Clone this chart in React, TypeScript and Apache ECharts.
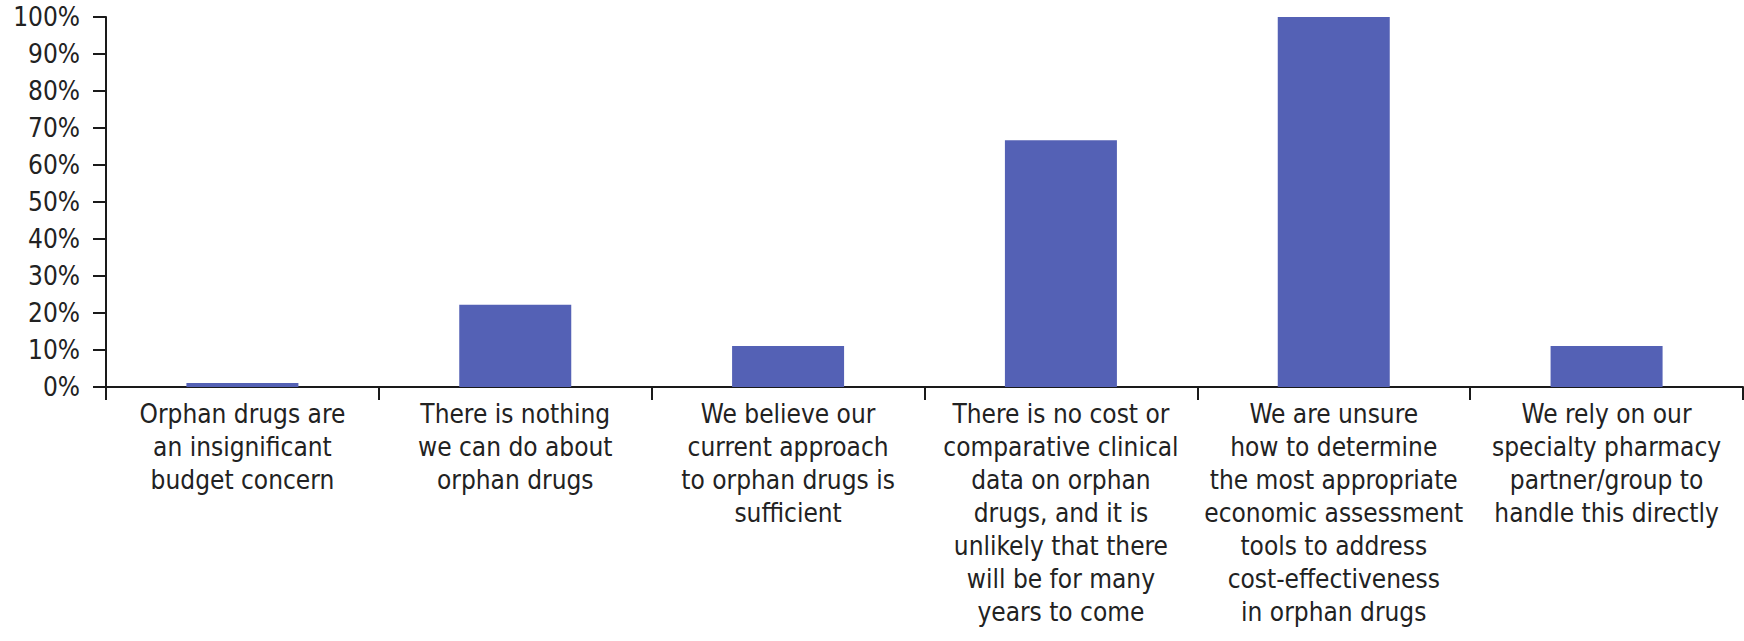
import React, { useEffect, useRef } from "react";
import * as echarts from "echarts";

const categoryLines: string[][] = [
  ["Orphan drugs are", "an insignificant", "budget concern"],
  ["There is nothing", "we can do about", "orphan drugs"],
  ["We believe our", "current approach", "to orphan drugs is", "sufficient"],
  ["There is no cost or", "comparative clinical", "data on orphan", "drugs, and it is", "unlikely that there", "will be for many", "years to come"],
  ["We are unsure", "how to determine", "the most appropriate", "economic assessment", "tools to address", "cost-effectiveness", "in orphan drugs"],
  ["We rely on our", "specialty pharmacy", "partner/group to", "handle this directly"],
];
const categories: string[] = categoryLines.map((l) => l.join("\n"));
const values: number[] = [1.1, 22.2, 11.1, 66.7, 100, 11.1];
const yMin = 0;
const yMax = 100;
const yStep = 10;

const FONT = '"Liberation Sans Narrow", "DejaVu Sans Condensed", "Roboto Condensed", "Liberation Sans", sans-serif';

export default function App() {
  const ref = useRef<HTMLDivElement>(null);
  useEffect(() => {
    if (!ref.current) return;
    const chart = echarts.init(ref.current, null, { renderer: "svg" });
    chart.setOption({
      animation: false,
      backgroundColor: "#ffffff",
      grid: { left: 106, right: 1, top: 17, bottom: 254, containLabel: false },
      xAxis: {
        type: "category",
        data: categories,
        axisLine: { show: true, lineStyle: { color: "#1a1a1a", width: 2 } },
        axisTick: { show: true, length: 13, lineStyle: { color: "#1a1a1a", width: 2 } },
        axisLabel: {
          interval: 0,
          margin: 10,
          color: "#222222",
          fontFamily: FONT,
          fontSize: 26,
          lineHeight: 33,
          align: "center",
        },
        splitLine: { show: false },
      },
      yAxis: {
        type: "value",
        min: yMin,
        max: yMax,
        interval: yStep,
        axisLine: { show: true, lineStyle: { color: "#1a1a1a", width: 2 } },
        axisTick: { show: true, length: 13, lineStyle: { color: "#1a1a1a", width: 2 } },
        axisLabel: {
          formatter: "{value}%",
          margin: 26,
          color: "#222222",
          fontFamily: FONT,
          fontSize: 26,
        },
        splitLine: { show: false },
      },
      series: [
        {
          type: "bar",
          data: values,
          barWidth: 112,
          itemStyle: { color: "#5461B5" },
        },
      ],
    });
    return () => chart.dispose();
  }, []);
  return (
    <div
      ref={ref}
      style={{ position: "fixed", left: 0, top: 0, width: 1744, height: 641, background: "#fff" }}
    />
  );
}
